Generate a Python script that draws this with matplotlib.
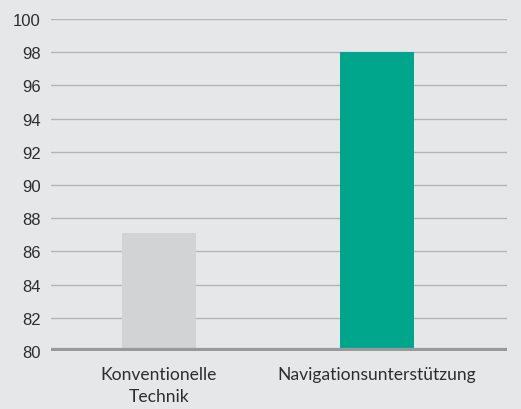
import matplotlib

matplotlib.use("Agg")
import matplotlib.pyplot as plt

BG = "#e6e7e9"
GRID = "#b3b4b6"
BASE = "#98999b"

categories = ["Konventionelle\nTechnik", "Navigationsunterstützung"]
values = [87.1, 98.0]
colors = ["#d2d3d5", "#00a68c"]
yticks = [80, 82, 84, 86, 88, 90, 92, 94, 96, 98, 100]

fig = plt.figure(figsize=(5.21, 4.10), dpi=100, facecolor=BG)
ax = fig.add_axes([51 / 521, 58 / 410, 456 / 521, 332 / 410], facecolor=BG)

x = range(len(categories))
ax.bar(x, [v - 80 for v in values], bottom=80, width=0.34, color=colors, zorder=2)

for t in yticks[1:]:
    ax.axhline(t, color=GRID, lw=1.0, zorder=1)
ax.axhline(80, color=BASE, lw=4.5, zorder=3)

ax.set_ylim(80, 100)
ax.set_xlim(-0.495, 1.596)
ax.set_yticks(yticks)
ax.set_yticklabels([str(t) for t in yticks], fontsize=12, color="#2e2e2e",
                   family="Liberation Sans")
ax.set_xticks(list(x))
ax.set_xticklabels(categories, fontsize=12.6, color="#2e2e2e", family="Lato",
                   linespacing=1.45)
ax.tick_params(axis="y", length=0, pad=7.5)
ax.tick_params(axis="x", length=0, pad=11)
for s in ax.spines.values():
    s.set_visible(False)

fig.savefig("out.png", dpi=100, facecolor=BG)
